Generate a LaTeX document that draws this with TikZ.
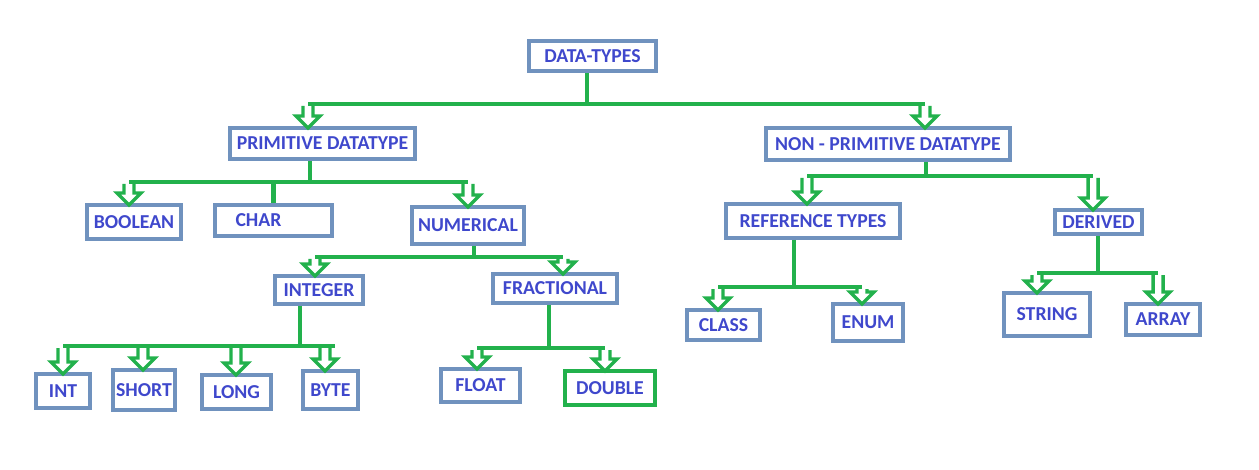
\documentclass[tikz,border=0pt]{standalone}
\usepackage{fontspec}
\setmainfont{Carlito}
\usetikzlibrary{calc}

\definecolor{boxblue}{HTML}{7092BE}
\definecolor{linegreen}{HTML}{22B14C}
\definecolor{textblue}{HTML}{3F48CC}

\tikzset{
  box/.style={draw=boxblue, line width=3pt, inner sep=0pt, text=textblue,
    font=\bfseries\fontsize{14.8}{16}\selectfont},
  branch/.style={draw=linegreen, line width=3.5pt},
  hollow/.style={draw=linegreen, line width=2.6pt},
}

% branch from a junction to a child, ending in a hollow arrow (#3 = x offset)
\newcommand{\hollowto}[3]{%
  \draw[branch] (#1) -- ($(#1 -| #2.north)+(#3,0)$);
  \draw[hollow] ($(#1 -| #2.north)+(#3-5,2)$) -- ($(#2.north)+(#3-5,-10)$) -- ($(#2.north)+(#3-12,-10)$) -- ($(#2.north)+(#3,2)$) -- ($(#2.north)+(#3+12,-10)$) -- ($(#2.north)+(#3+5,-10)$) -- ($(#1 -| #2.north)+(#3+5,2)$);
}

\begin{document}
\begin{tikzpicture}[x=0.75pt,y=0.75pt,yscale=-1,xscale=1]
\useasboundingbox (0,0) rectangle (1259,470);

%Shape: Rectangle [id:data]
\draw (592.5,56) node [box, minimum width=95.25pt, minimum height=22.5pt] (data) {DATA-TYPES};
%Shape: Rectangle [id:prim]
\draw (322.5,143.5) node [box, minimum width=138.75pt, minimum height=23.25pt] (prim) {PRIMITIVE DATATYPE};
%Shape: Rectangle [id:nonprim]
\draw (888,144) node [box, minimum width=183pt, minimum height=24pt] (nonprim) {NON - PRIMITIVE DATATYPE};

%Shape: Rectangle [id:bool]
\draw (134,222) node [box, minimum width=70.5pt, minimum height=25.5pt] (bool) {BOOLEAN};
%Shape: Rectangle [id:char]
\draw (273.5,220.5) node [box, minimum width=87.75pt, minimum height=23.25pt] (char) {CHAR\hspace*{22.5pt}};
%Shape: Rectangle [id:num]
\draw (468,225.5) node [box, minimum width=84pt, minimum height=27.75pt] (num) {NUMERICAL};
%Shape: Rectangle [id:integer]
\draw (319,290) node [box, minimum width=66pt, minimum height=21pt] (integer) {INTEGER};
%Shape: Rectangle [id:frac]
\draw (555,288.5) node [box, minimum width=93pt, minimum height=21.75pt] (frac) {FRACTIONAL};

%Shape: Rectangle [id:int]
\draw (63,391) node [box, minimum width=40.5pt, minimum height=25.5pt] (int) {INT};
%Shape: Rectangle [id:short]
\draw (144,390) node [box, minimum width=46.5pt, minimum height=30pt] (short) {SHORT};
%Shape: Rectangle [id:long]
\draw (236.5,392) node [box, minimum width=51.75pt, minimum height=25.5pt] (long) {LONG};
%Shape: Rectangle [id:byte]
\draw (330.5,390) node [box, minimum width=41.25pt, minimum height=28.5pt] (byte) {BYTE};
%Shape: Rectangle [id:float]
\draw (480.5,385.5) node [box, minimum width=59.25pt, minimum height=24.75pt] (float) {FLOAT};
%Shape: Rectangle [id:double]
\draw (610,388) node [box, draw=linegreen, minimum width=67.5pt, minimum height=25.5pt] (double) {DOUBLE};

%Shape: Rectangle [id:ref]
\draw (813,221) node [box, minimum width=130.5pt, minimum height=25.5pt] (ref) {REFERENCE TYPES};
%Shape: Rectangle [id:derived]
\draw (1098.5,222) node [box, minimum width=65.25pt, minimum height=18pt] (derived) {DERIVED};
%Shape: Rectangle [id:class]
\draw (723.5,325) node [box, minimum width=54.75pt, minimum height=22.5pt] (class) {CLASS};
%Shape: Rectangle [id:enum]
\draw (868,322.5) node [box, minimum width=52.5pt, minimum height=27.75pt] (enum) {ENUM};
%Shape: Rectangle [id:string]
\draw (1047,314.5) node [box, minimum width=64.5pt, minimum height=32.25pt] (string) {STRING};
%Shape: Rectangle [id:array]
\draw (1163,319.5) node [box, minimum width=55.5pt, minimum height=23.25pt] (array) {ARRAY};

% junctions
\coordinate (dbus) at (587,104);
\coordinate (pbus) at (310,182);
\coordinate (nbus) at (474,257);
\coordinate (ibus) at (300,346);
\coordinate (fbus) at (549,348);
\coordinate (npbus) at (926,176);
\coordinate (rbus) at (794,287);
\coordinate (vbus) at (1098,273);

%Straight Lines
\draw[branch] (dbus |- data.south) -- (dbus);
\hollowto{dbus}{prim}{-14.5}
\hollowto{dbus}{nonprim}{37}

\draw[branch] (pbus |- prim.south) -- (pbus);
\hollowto{pbus}{bool}{-5}
\hollowto{pbus}{num}{0}
\draw[branch] (pbus) -- (pbus -| char.north) -- (char.north);

\draw[branch] (nbus |- num.south) -- (nbus);
\hollowto{nbus}{integer}{-4}
\hollowto{nbus}{frac}{8}

\draw[branch] (ibus |- integer.south) -- (ibus);
\hollowto{ibus}{int}{0}
\hollowto{ibus}{short}{-1}
\hollowto{ibus}{long}{-0.5}
\hollowto{ibus}{byte}{-5.5}
\draw[branch] (ibus) -- ++(35,0);

\draw[branch] (fbus |- frac.south) -- (fbus);
\hollowto{fbus}{float}{-3.5}
\hollowto{fbus}{double}{-5}

\draw[branch] (npbus |- nonprim.south) -- (npbus);
\hollowto{npbus}{ref}{-6}
\hollowto{npbus}{derived}{-5.5}

\draw[branch] (rbus |- ref.south) -- (rbus);
\hollowto{rbus}{class}{-5.5}
\hollowto{rbus}{enum}{-6}

\draw[branch] (vbus |- derived.south) -- (vbus);
\hollowto{vbus}{string}{-10}
\hollowto{vbus}{array}{-5}

\end{tikzpicture}
\end{document}
